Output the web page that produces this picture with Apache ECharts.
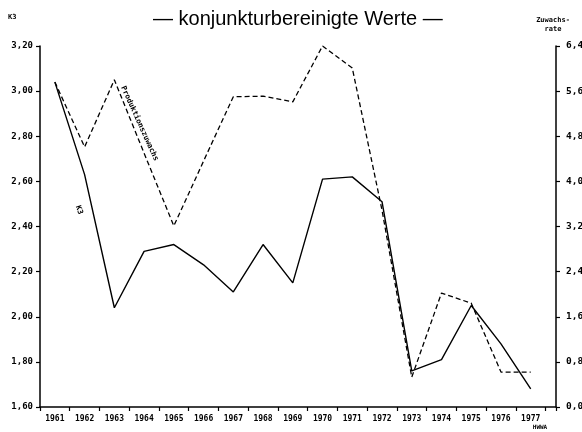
<!DOCTYPE html>
<html>
<head>
<meta charset="utf-8">
<script src="https://cdn.jsdelivr.net/npm/echarts@6/dist/echarts.min.js"></script>
<style>
html,body{margin:0;padding:0;background:#fff;}
#chart{width:582px;height:432px;}
</style>
</head>
<body>
<div id="chart"></div>
<script>
// ---- data ----
var years = [1961, 1962, 1963, 1964, 1965, 1966, 1967, 1968, 1969, 1970, 1971, 1972, 1973, 1974, 1975, 1976, 1977];
// K3 (left axis)
var k3 = [3.04, 2.63, 2.04, 2.29, 2.32, 2.23, 2.11, 2.32, 2.15, 2.61, 2.62, 2.51, 1.76, 1.81, 2.05, 1.88, 1.68];
// Produktionszuwachs (right axis, Zuwachsrate)
var produktion = [5.76, 4.61, 5.80, 4.50, 3.21, 4.36, 5.50, 5.51, 5.41, 6.40, 6.01, 3.49, 0.53, 2.02, 1.84, 0.62, 0.62];

var titleText = '\u2014 konjunkturbereinigte Werte \u2014';
var leftAxisName = 'K3';
var rightAxisName = ['Zuwachs-', 'rate'];
var k3Label = 'K3';
var prodLabel = 'Produktionszuwachs';
var sourceLabel = 'HWWA';

function pairs(xs, ys) { return xs.map(function (x, i) { return [x, ys[i]]; }); }

var mono = '"DejaVu Sans Mono", "Liberation Mono", monospace';
var chart = echarts.init(document.getElementById('chart'), null, { renderer: 'canvas' });
chart.setOption({
  animation: false,
  backgroundColor: '#fff',
  title: {
    text: titleText,
    left: 148, top: 4,
    textStyle: { fontFamily: '"Liberation Sans", Arial, sans-serif', fontSize: 20, fontWeight: 'normal', color: '#000' }
  },
  grid: { left: 40, right: 26, top: 46, bottom: 25, containLabel: false, outerBoundsMode: 'none' },
  xAxis: [{
    type: 'value', position: 'bottom', min: 1960.5, max: 1977.85, interval: 1,
    axisLine: { show: true, lineStyle: { color: '#000', width: 1.5 } },
    axisTick: { show: true, inside: false, length: 4, lineStyle: { color: '#000', width: 1.2 } },
    axisLabel: { show: false },
    splitLine: { show: false }
  }, {
    type: 'value', position: 'bottom', min: 1960.5, max: 1977.85, interval: 0.5,
    axisLine: { show: false }, axisTick: { show: false }, splitLine: { show: false },
    axisLabel: {
      show: true, margin: 8, color: '#000', fontFamily: mono, fontSize: 8, fontWeight: 'bold',
      showMinLabel: true, showMaxLabel: true,
      formatter: function (v) { return (Math.abs(v - Math.round(v)) < 1e-6) ? String(Math.round(v)) : ''; }
    }
  }],
  yAxis: [{
    type: 'value', position: 'left', min: 1.6, max: 3.2, interval: 0.2,
    axisLine: { show: true, lineStyle: { color: '#000', width: 1.5 } },
    axisTick: { show: true, length: 4, lineStyle: { color: '#000', width: 1.2 } },
    splitLine: { show: false },
    axisLabel: {
      margin: 7, color: '#000', fontFamily: mono, fontSize: 9, fontWeight: 'bold',
      formatter: function (v) { return v.toFixed(2).replace('.', ','); }
    }
  }, {
    type: 'value', position: 'right', min: 0, max: 6.4, interval: 0.8,
    axisLine: { show: true, lineStyle: { color: '#000', width: 1.5 } },
    axisTick: { show: true, length: 4, lineStyle: { color: '#000', width: 1.2 } },
    splitLine: { show: false },
    axisLabel: {
      margin: 10, color: '#000', fontFamily: mono, fontSize: 9.5, fontWeight: 'bold',
      formatter: function (v) { return v.toFixed(1).replace('.', ','); }
    }
  }],
  series: [{
    name: 'K3', type: 'line', xAxisIndex: 0, yAxisIndex: 0,
    data: pairs(years, k3), symbol: 'none',
    lineStyle: { color: '#000', width: 1.4 }
  }, {
    name: 'Produktionszuwachs', type: 'line', xAxisIndex: 0, yAxisIndex: 1,
    data: pairs(years, produktion), symbol: 'none',
    lineStyle: { color: '#000', width: 1.3, type: [5, 3] }
  }],
  graphic: [
    { type: 'text', left: 8, top: 14, style: { text: leftAxisName, font: 'bold 7px ' + mono, fill: '#000' } },
    { type: 'text', x: 553, y: 16, style: { text: rightAxisName.join('\n'), font: 'bold 7px ' + mono, fill: '#000', align: 'center', verticalAlign: 'top', lineHeight: 9 } },
    { type: 'text', x: 139.5, y: 123.5, rotation: -1.145, style: { text: prodLabel, font: 'bold 7.5px ' + mono, fill: '#000', align: 'center', verticalAlign: 'middle' } },
    { type: 'text', x: 79, y: 210, rotation: -1.25, style: { text: k3Label, font: 'bold 7.5px ' + mono, fill: '#000', align: 'center', verticalAlign: 'middle' } },
    { type: 'text', x: 540, y: 427, style: { text: sourceLabel, font: 'bold 6px ' + mono, fill: '#000', align: 'center', verticalAlign: 'middle' } }
  ]
});
</script>
</body>
</html>
